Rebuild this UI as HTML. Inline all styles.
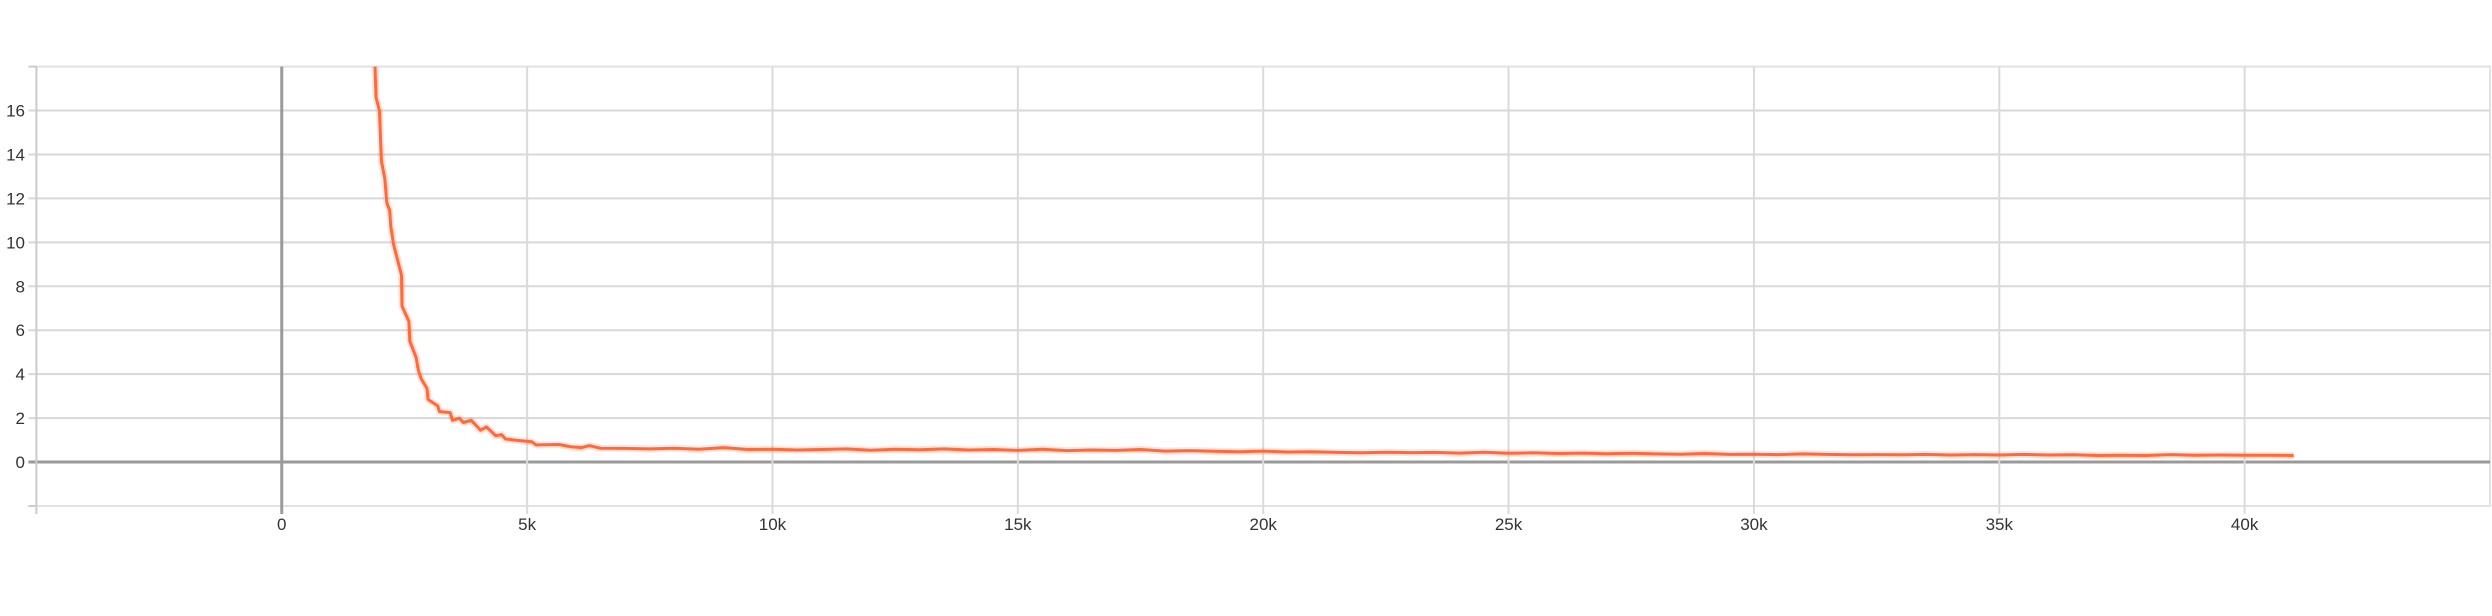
<!DOCTYPE html>
<html><head><meta charset="utf-8"><style>
html,body{margin:0;padding:0;background:#fff;}
svg{display:block;font-family:"Liberation Sans",sans-serif;}
</style></head><body>
<svg id="chart" width="2492" height="616" viewBox="0 0 2492 616" xmlns="http://www.w3.org/2000/svg">
<g id="grid"></g>
<g id="axes"></g>
<g id="series"></g>
</svg>
<script>
const xTicks = [0,5000,10000,15000,20000,25000,30000,35000,40000];
const xTickLabels = ["0","5k","10k","15k","20k","25k","30k","35k","40k"];
const yTicks = [0,2,4,6,8,10,12,14,16];
const yTickLabels = ["0","2","4","6","8","10","12","14","16"];
const steps = [1900,1920,1990,2030,2100,2140,2200,2220,2280,2440,2450,2590,2610,2740,2780,2840,2960,2980,3180,3210,3430,3480,3620,3700,3860,4050,4170,4360,4480,4560,4870,5100,5180,5650,5880,6110,6270,6490,
7000,7500,8000,8500,9000,9500,10000,10500,11000,11500,12000,12500,13000,13500,14000,14500,15000,15500,16000,16500,17000,17500,18000,18500,19000,19500,20000,20500,21000,21500,22000,22500,23000,23500,24000,24500,25000,25500,26000,26500,27000,27500,28000,28500,29000,29500,30000,30500,31000,31500,32000,32500,33000,33500,34000,34500,35000,35500,36000,36500,37000,37500,38000,38500,39000,39500,40000,40500,41000];
const loss = [18,16.6,16.0,13.7,12.9,11.8,11.45,10.75,9.9,8.5,7.1,6.4,5.5,4.75,4.2,3.8,3.35,2.85,2.55,2.3,2.25,1.9,2.0,1.8,1.9,1.45,1.6,1.2,1.25,1.05,0.97,0.92,0.78,0.8,0.7,0.66,0.75,0.63,
0.62,0.60,0.63,0.58,0.66,0.57,0.58,0.55,0.57,0.60,0.54,0.58,0.56,0.60,0.55,0.57,0.53,0.58,0.52,0.55,0.53,0.57,0.50,0.52,0.49,0.47,0.50,0.46,0.47,0.44,0.42,0.45,0.43,0.44,0.41,0.45,0.40,0.42,0.39,0.41,0.38,0.40,0.37,0.36,0.39,0.35,0.36,0.34,0.37,0.35,0.33,0.34,0.33,0.35,0.32,0.34,0.32,0.35,0.32,0.33,0.30,0.31,0.30,0.34,0.31,0.32,0.31,0.31,0.30];

const L=36.4,R=2490,T=66.6,B=506;
const xMin=-5000,xMax=45000,yMin=-2,yMax=18;
const xs=v=>L+(v-xMin)/(xMax-xMin)*(R-L);
const ys=v=>B-(v-yMin)/(yMax-yMin)*(B-T);
const NS="http://www.w3.org/2000/svg";
function mk(tag,attrs,parent){const e=document.createElementNS(NS,tag);for(const k in attrs)e.setAttribute(k,attrs[k]);parent.appendChild(e);return e;}
const grid=document.getElementById('grid'),axes=document.getElementById('axes'),series=document.getElementById('series');

// frame
let f=mk('rect',{x:L,y:T,width:R-L,height:B-T,fill:'none',stroke:'#e2e2e2','stroke-width':2},grid);


// y grid + labels
yTicks.forEach((v,i)=>{
  const y=ys(v);
  const g=mk('line',{x1:L-8,x2:R,y1:y,y2:y,stroke:v===0?'#9a9a9a':'#d8d8d8','stroke-width':v===0?3:2},grid);
  
  
  const t=mk('text',{x:25,y:y+6,'text-anchor':'end','font-size':17,fill:'#333'},axes);
  t.textContent=yTickLabels[i];
  
  
});
[-2,18].forEach(v=>{const g=mk('line',{x1:L-8,x2:L,y1:ys(v),y2:ys(v),stroke:'#ccc','stroke-width':2},axes);

});
// x grid + labels
xTicks.forEach((v,i)=>{
  const x=xs(v);
  const g=mk('line',{x1:x,x2:x,y1:T,y2:B+8,stroke:v===0?'#9a9a9a':'#dadada','stroke-width':v===0?3:2},grid);
  
  
  const t=mk('text',{x:x,y:530,'text-anchor':'middle','font-size':17,fill:'#333'},axes);
  t.textContent=xTickLabels[i];
  
  
});
const la=mk('line',{x1:L,x2:L,y1:T,y2:B+8,stroke:'#ccc','stroke-width':2},axes);



const d=steps.map((s,i)=>(i?'L':'M')+xs(s).toFixed(1)+','+Math.max(ys(loss[i]),T).toFixed(1)).join(' ');
const raw=mk('path',{d:d,fill:'none',stroke:'#ff7043','stroke-opacity':0.2,'stroke-width':7,'stroke-linejoin':'round'},series);


const ln=mk('path',{d:d,fill:'none',stroke:'#ff6a3d','stroke-width':3,'stroke-linejoin':'round'},series);


</script>
</body></html>
